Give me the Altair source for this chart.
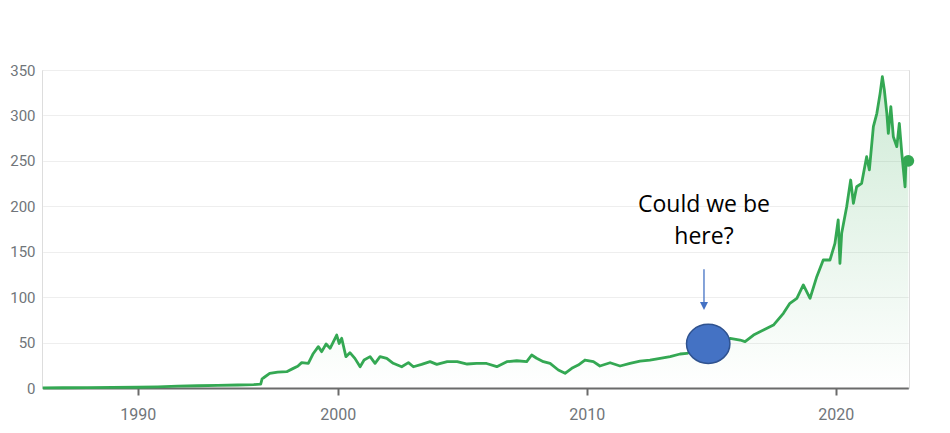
import altair as alt
import pandas as pd

# ---- data ----
years = [1986.2, 1987.0, 1988.0, 1989.0, 1990.0, 1991.0, 1992.0, 1993.0, 1994.0, 1995.0,
         1995.8, 1996.15, 1996.22, 1996.28, 1996.6, 1997.0, 1997.45, 1997.78, 1998.0, 1998.2,
         1998.53, 1998.78, 1999.03, 1999.2, 1999.42, 1999.62, 1999.95, 2000.06, 2000.16, 2000.33,
         2000.49, 2000.69, 2000.9, 2001.06, 2001.3, 2001.5, 2001.7, 2001.97, 2002.23, 2002.57,
         2002.84, 2003.04, 2003.37, 2003.71, 2003.98, 2004.4, 2004.8, 2005.2, 2005.58, 2005.98,
         2006.39, 2006.79, 2007.19, 2007.59, 2007.79, 2007.99, 2008.26, 2008.53, 2008.86, 2009.13,
         2009.4, 2009.66, 2009.93, 2010.27, 2010.53, 2010.94, 2011.34, 2011.74, 2012.14, 2012.54,
         2012.95, 2013.35, 2013.75, 2014.02, 2014.5, 2015.0, 2015.4, 2015.76, 2016.16, 2016.36,
         2016.7, 2017.1, 2017.5, 2017.9, 2018.16, 2018.44, 2018.7, 2018.97, 2019.24, 2019.5,
         2019.77, 2019.97, 2020.1, 2020.17, 2020.24, 2020.44, 2020.6, 2020.71, 2020.84, 2021.04,
         2021.24, 2021.35, 2021.51, 2021.65, 2021.78, 2021.87, 2021.95, 2022.05, 2022.11, 2022.21,
         2022.31, 2022.45, 2022.55, 2022.65, 2022.78, 2022.82, 2022.91]
prices = [0.1, 0.3, 0.5, 0.6, 0.8, 1.3, 2.0, 2.5, 2.8, 3.3,
          3.8, 4.2, 10.0, 11.0, 16.0, 17.5, 18.0, 21.6, 24.0, 27.9,
          27.0, 38.0, 45.5, 40.0, 48.4, 43.7, 58.3, 49.0, 54.7, 34.5,
          38.9, 32.6, 23.4, 30.8, 34.5, 27.2, 34.5, 32.7, 27.2, 23.4,
          27.9, 23.4, 26.0, 29.0, 26.0, 29.0, 29.0, 26.4, 27.0, 27.0,
          23.5, 29.0, 30.0, 29.0, 36.3, 32.7, 29.0, 27.0, 19.8, 16.2,
          21.7, 25.3, 30.8, 29.0, 24.2, 27.8, 24.2, 27.0, 29.5, 30.8,
          32.7, 34.5, 37.4, 38.0, 43.0, 46.0, 48.0, 54.7, 52.8, 51.0,
          58.3, 63.8, 69.3, 82.2, 93.2, 98.7, 113.4, 98.7, 122.5, 140.9,
          140.9, 159.2, 184.9, 137.2, 170.3, 199.5, 228.9, 203.3, 221.5, 225.3,
          254.6, 240.0, 287.6, 302.3, 324.3, 342.6, 328.0, 302.3, 280.3, 309.6,
          276.6, 265.6, 291.3, 258.3, 221.5, 251.0, 250.0]

x_ticks = [1990, 2000, 2010, 2020]
y_ticks = [0, 50, 100, 150, 200, 250, 300, 350]

# the source axis is not linear in time: break points of the time axis
axis_years = [1986.2, 1990, 2000, 2010, 2020, 2022.91]
axis_pos = [0.7, 95.7, 295.7, 544.7, 793.7, 866.3]

note_lines = ["Could we be", "here?"]
note_x = [2014.71, 2014.71]
note_y = [193.4, 158.2]

arrow_x = [2014.71]
arrow_top = [130.6]
arrow_bottom = [93.5]
arrow_head = [90.2]

circle_x = [2014.88]
circle_y = [48.6]

GREEN = "#34a853"
BLUE = "#4472c4"

df = pd.DataFrame({"year": years, "price": prices})
last = df.tail(1)

xscale = alt.Scale(domain=axis_years, range=axis_pos, zero=False, nice=False)
yscale = alt.Scale(domain=[0, 350], zero=False, nice=False)

xenc = alt.X("year:Q", scale=xscale,
             axis=alt.Axis(values=x_ticks, format="d", title=None, grid=False,
                           domain=True, domainColor="#6b6b6b", domainWidth=2,
                           ticks=True, tickColor="#6b6b6b", tickWidth=2, tickSize=7,
                           labelPadding=11, labelColor="#70757a", labelFontSize=16,
                           labelFont="Roboto"))
yenc = alt.Y("price:Q", scale=yscale,
             axis=alt.Axis(values=y_ticks, title=None, domain=False, ticks=False,
                           grid=True, gridColor="#eeeeee", gridWidth=1,
                           labelPadding=7, labelColor="#70757a", labelFontSize=15,
                           labelFont="Roboto"))

area = alt.Chart(df).mark_area(
    color=alt.Gradient(
        gradient="linear",
        stops=[alt.GradientStop(color="rgba(52,168,83,0.24)", offset=0),
               alt.GradientStop(color="rgba(52,168,83,0)", offset=1)],
        x1=1, x2=1, y1=0, y2=1),
    interpolate="linear",
).encode(x=xenc, y=yenc)

line = alt.Chart(df).mark_line(color=GREEN, strokeWidth=2.8, strokeJoin="round").encode(
    x=alt.X("year:Q", scale=xscale), y=alt.Y("price:Q", scale=yscale))

dot = alt.Chart(last).mark_point(shape="circle", filled=True, color=GREEN, size=140,
                                 opacity=1).encode(
    x=alt.X("year:Q", scale=xscale), y=alt.Y("price:Q", scale=yscale))

ellipse_path = ("M 1 0 C 1 0.497 0.552 0.9 0 0.9 C -0.552 0.9 -1 0.497 -1 0 "
                "C -1 -0.497 -0.552 -0.9 0 -0.9 C 0.552 -0.9 1 -0.497 1 0 Z")
circ_df = pd.DataFrame({"year": circle_x, "price": circle_y})
blob = alt.Chart(circ_df).mark_point(shape=ellipse_path, filled=True, fill=BLUE,
                                     stroke="#2f528f", strokeWidth=1.5, size=1884,
                                     opacity=1, fillOpacity=1).encode(
    x=alt.X("year:Q", scale=xscale), y=alt.Y("price:Q", scale=yscale))

arrow_df = pd.DataFrame({"year": arrow_x, "top": arrow_top, "bottom": arrow_bottom,
                         "head": arrow_head})
shaft = alt.Chart(arrow_df).mark_rule(color=BLUE, strokeWidth=1.3).encode(
    x=alt.X("year:Q", scale=xscale), y=alt.Y("top:Q", scale=yscale),
    y2=alt.Y2("bottom:Q"))
head = alt.Chart(arrow_df).mark_point(shape="M -1 -1 L 1 -1 L 0 1 Z", filled=True,
                                      color=BLUE, size=64, opacity=1).encode(
    x=alt.X("year:Q", scale=xscale), y=alt.Y("head:Q", scale=yscale))

note_df = pd.DataFrame({"year": note_x, "price": note_y, "txt": note_lines})
note = alt.Chart(note_df).mark_text(font="Open Sans", fontSize=23, color="#000000",
                                    align="center", baseline="alphabetic").encode(
    x=alt.X("year:Q", scale=xscale), y=alt.Y("price:Q", scale=yscale), text="txt:N")

chart = alt.layer(area, line, dot, blob, shaft, head, note).properties(
    width=867, height=318,
    autosize=alt.AutoSizeParams(type="none"),
    padding={"left": 34, "top": 62, "right": 20, "bottom": 35},
).configure_view(stroke=None).configure(background="white")

chart.save("out.html", embed_options={"renderer": "svg", "actions": False})
